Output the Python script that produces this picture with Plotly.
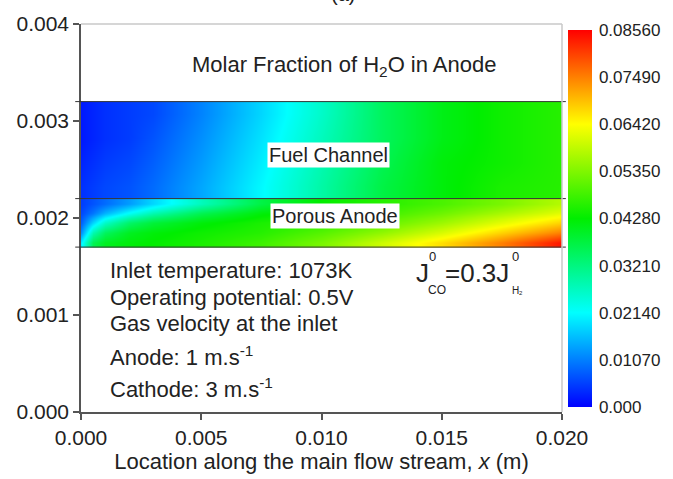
import plotly.graph_objects as go

# ---------------- data ----------------
x_pos = [0.0, 0.0005, 0.001, 0.002, 0.003, 0.005, 0.0075, 0.01, 0.0125, 0.015, 0.0175, 0.02]

# Porous anode layer: y cell edges (m) and molar fraction rows (bottom -> top)
anode_y_edges = [0.0017, 0.0018, 0.0019, 0.0020, 0.0021, 0.0022]
anode_z = [
    [0.020, 0.036, 0.040, 0.042, 0.043, 0.045, 0.048, 0.053, 0.060, 0.067, 0.075, 0.084],
    [0.012, 0.028, 0.035, 0.040, 0.042, 0.044, 0.046, 0.050, 0.055, 0.061, 0.068, 0.075],
    [0.008, 0.018, 0.026, 0.034, 0.038, 0.042, 0.045, 0.047, 0.051, 0.056, 0.062, 0.068],
    [0.006, 0.010, 0.015, 0.022, 0.028, 0.036, 0.042, 0.045, 0.048, 0.052, 0.057, 0.062],
    [0.005, 0.007, 0.009, 0.013, 0.018, 0.027, 0.037, 0.043, 0.046, 0.049, 0.053, 0.058],
]

# Fuel channel: y cell edges (m) and molar fraction rows (bottom -> top)
channel_y_edges = [0.0022, 0.00245, 0.0027, 0.00295, 0.0032]
channel_z = [
    [0.004, 0.005, 0.006, 0.007, 0.009, 0.014, 0.021, 0.029, 0.037, 0.042, 0.045, 0.046],
    [0.003, 0.004, 0.005, 0.006, 0.008, 0.013, 0.020, 0.028, 0.036, 0.042, 0.044, 0.046],
    [0.002, 0.003, 0.004, 0.005, 0.007, 0.012, 0.019, 0.027, 0.035, 0.041, 0.044, 0.046],
    [0.002, 0.003, 0.004, 0.005, 0.006, 0.011, 0.018, 0.026, 0.035, 0.041, 0.044, 0.046],
]

region_boundaries = [0.0017, 0.0022, 0.0032]

cbar_vals = [0.0, 0.0107, 0.0214, 0.0321, 0.0428, 0.0535, 0.0642, 0.0749, 0.0856]
cbar_text = ["0.000", "0.01070", "0.02140", "0.03210", "0.04280",
             "0.05350", "0.06420", "0.07490", "0.08560"]

x_ticks = [0.0, 0.005, 0.010, 0.015, 0.020]
y_ticks = [0.0, 0.001, 0.002, 0.003, 0.004]

# ---------------- layout geometry ----------------
W, H = 673, 479
L, R, T, B = 81, 562, 21, 413
XMAX, YMAX = 0.02, 0.004
FONT = "Arial, Liberation Sans, sans-serif"
TXT = "#222222"

def dx(px):
    return (px - L) / (R - L) * XMAX

def dy(py):
    return (B - py) / (B - T) * YMAX

jet = [[0.0, "#0000ff"], [0.25, "#00ffff"], [0.5, "#00ee00"], [0.75, "#ffff00"], [1.0, "#ff0000"]]

fig = go.Figure()

cbar = dict(
    tickvals=cbar_vals, ticktext=cbar_text,
    tickfont=dict(family=FONT, size=17, color=TXT),
    thickness=24, len=(408 - 27) / (B - T), lenmode="fraction",
    x=1 + (568 - R) / (R - L), xanchor="left", xpad=0,
    y=(B - (27 + 408) / 2) / (B - T), yanchor="middle", ypad=0,
    outlinewidth=0, ticks="outside", ticklen=4, tickcolor="rgba(0,0,0,0)",
)

fig.add_trace(go.Heatmap(
    x=x_pos, y=anode_y_edges, z=anode_z, zsmooth="best",
    colorscale=jet, zmin=0, zmax=0.0856, colorbar=cbar, showscale=True,
))
fig.add_trace(go.Heatmap(
    x=x_pos, y=channel_y_edges, z=channel_z, zsmooth="best",
    colorscale=jet, zmin=0, zmax=0.0856, showscale=False,
))

shapes = []
for yb in region_boundaries:
    shapes.append(dict(type="line", xref="paper", yref="y", x0=-0.012, x1=1.008,
                       y0=yb, y1=yb, line=dict(color="#333333", width=1)))
# light frame top/right
shapes.append(dict(type="line", xref="paper", yref="paper", x0=0, x1=1, y0=1, y1=1,
                   line=dict(color="#c8c8c8", width=1.5)))
shapes.append(dict(type="line", xref="paper", yref="paper", x0=1, x1=1, y0=0, y1=1,
                   line=dict(color="#c8c8c8", width=1.5)))

ann = []
def add(text, px, py, size=21, xanchor="center", yanchor="middle", bg=None, **kw):
    d = dict(text=text, x=dx(px), y=dy(py), xref="x", yref="y", showarrow=False,
             xanchor=xanchor, yanchor=yanchor,
             font=dict(family=FONT, size=size, color=TXT))
    if bg:
        d["bgcolor"] = bg
        d["borderpad"] = 1
    d.update(kw)
    ann.append(d)

add("Molar Fraction of H<sub>2</sub>O in Anode", 344, 63, size=22)
add("Fuel Channel", 328, 153, size=20, bg="white")
add("Porous Anode", 335, 215, size=20, bg="white")
add("Inlet temperature: 1073K", 108, 270, size=22, xanchor="left")
add("Operating potential: 0.5V", 108, 297, size=22, xanchor="left")
add("Gas velocity at the inlet", 108, 324, size=22, xanchor="left")
add("Anode: 1 m.s<sup>-1</sup>", 108, 356, size=22, xanchor="left")
add("Cathode: 3 m.s<sup>-1</sup>", 108, 389, size=22, xanchor="left")

# J0_CO = 0.3 J0_H2 with stacked super/subscripts
add("J", 414, 273, size=26, xanchor="left")
add("0", 427, 256, size=13, xanchor="left")
add("CO", 426, 290, size=12, xanchor="left")
add("=0.3J", 443, 273, size=26, xanchor="left")
add("0", 510, 256, size=13, xanchor="left")
add("H", 510, 290, size=10, xanchor="left")
add("2", 517, 293, size=6, xanchor="left")

# y-axis title
add("y (m)", 31, 171, size=21, textangle=-90)

# partially visible panel label at the very top (only its lower edge shows)
ann.append(dict(text="(a)", x=0.545, y=1, xref="paper", yref="paper",
                xanchor="center", yanchor="bottom", yshift=T - 4, showarrow=False,
                font=dict(family=FONT, size=20, color=TXT)))

fig.update_layout(
    width=W, height=H,
    margin=dict(l=L, r=W - R, t=T, b=H - B, pad=0),
    paper_bgcolor="white", plot_bgcolor="white",
    font=dict(family=FONT, color=TXT),
    shapes=shapes, annotations=ann,
    xaxis=dict(range=[0, XMAX], tickvals=x_ticks, tickformat=".3f",
               showline=True, linecolor="#555555", linewidth=1.5,
               ticks="outside", ticklen=6, tickcolor="#555555", tickwidth=1.5,
               showgrid=False, zeroline=False,
               tickfont=dict(family=FONT, size=21, color=TXT),
               title=dict(text="Location along the main flow stream, <i>x</i> (m)",
                          font=dict(family=FONT, size=22, color=TXT), standoff=3)),
    yaxis=dict(range=[0, YMAX], tickvals=y_ticks, tickformat=".3f",
               showline=True, linecolor="#555555", linewidth=1.5,
               ticks="outside", ticklen=6, tickcolor="#555555", tickwidth=1.5,
               showgrid=False, zeroline=False,
               tickfont=dict(family=FONT, size=21, color=TXT)),
)

fig.write_html("out.html")
